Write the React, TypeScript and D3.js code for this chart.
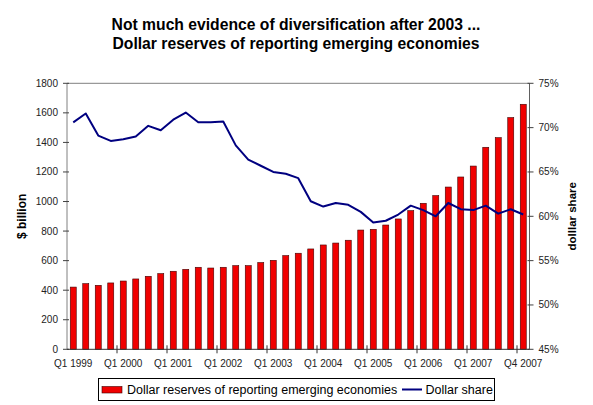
import React from "react";
import * as d3 from "d3";

// quarterly reserves ($ billion) and dollar share (%)
const reserves = [
  421, 444, 433, 449, 462, 476, 494, 512, 528, 541, 555, 550, 555, 566, 566,
  587, 602, 634, 650, 679, 706, 719, 738, 807, 812, 841, 882, 938, 988, 1040,
  1098, 1166, 1240, 1367, 1432, 1568, 1658,
];
const dollarShare = [
  70.6, 71.6, 69.1, 68.5, 68.7, 69.0, 70.2, 69.7, 70.9, 71.7, 70.6, 70.6, 70.7,
  68.0, 66.4, 65.7, 65.0, 64.8, 64.3, 61.7, 61.1, 61.5, 61.3, 60.5, 59.3, 59.5,
  60.2, 61.2, 60.7, 60.0, 61.5, 60.8, 60.7, 61.2, 60.3, 60.8, 60.2,
];
const tickLabels = [
  "Q1 1999", "Q1 2000", "Q1 2001", "Q1 2002", "Q1 2003",
  "Q1 2004", "Q1 2005", "Q1 2006", "Q1 2007", "Q4 2007",
];
const leftTicks = [0, 200, 400, 600, 800, 1000, 1200, 1400, 1600, 1800];
const rightTicks = [45, 50, 55, 60, 65, 70, 75];

const W = 593;
const H = 405;
const plot = { left: 67, right: 529.5, top: 83.3, bottom: 349.3 };
const font = "Arial, 'Liberation Sans', sans-serif";

const App = () => {
  const idx = reserves.map((_, i) => i);
  const x = d3
    .scaleBand<number>()
    .domain(idx)
    .range([plot.left, plot.right])
    .paddingInner(0)
    .paddingOuter(0);
  const step = x.step();
  const barW = 6;
  const yL = d3.scaleLinear().domain([0, 1800]).range([plot.bottom, plot.top]);
  const yR = d3.scaleLinear().domain([45, 75]).range([plot.bottom, plot.top]);

  const line = d3
    .line<number>()
    .x((_, i) => (x(i) as number) + step / 2)
    .y((d) => yR(d));

  // ticks between categories, every 4 quarters
  const xTicks = d3.range(4, reserves.length, 4).map((i) => x(i) as number);

  return (
    <svg
      width={W}
      height={H}
      style={{ position: "absolute", left: 0, top: 0, background: "#fff" }}
      fontFamily={font}
    >
      <rect x={0} y={0} width={W} height={H} fill="#fff" />

      <text x={296} y={30} textAnchor="middle" fontSize={15.7} fontWeight="bold">
        Not much evidence of diversification after 2003 ...
      </text>
      <text x={296} y={49} textAnchor="middle" fontSize={15.7} fontWeight="bold">
        Dollar reserves of reporting emerging economies
      </text>

      {/* plot border */}
      <line x1={plot.left} x2={plot.right} y1={plot.top} y2={plot.top} stroke="#808080" />

      {/* bars */}
      {reserves.map((v, i) => (
        <rect
          key={i}
          x={(x(i) as number) + (step - barW) / 2}
          y={yL(v)}
          width={barW}
          height={plot.bottom - yL(v)}
          fill="#f00000"
          stroke="#400000"
          strokeWidth={0.6}
        />
      ))}

      {/* dollar share line */}
      <path d={line(dollarShare) || ""} fill="none" stroke="#000080" strokeWidth={2} strokeLinejoin="round" />

      {/* left axis */}
      <line x1={plot.left} x2={plot.left} y1={plot.top} y2={plot.bottom} stroke="#808080" />
      {leftTicks.map((t) => (
        <g key={t}>
          <line x1={plot.left - 4} x2={plot.left + 2} y1={yL(t)} y2={yL(t)} stroke="#404040" />
          <text x={plot.left - 9} y={yL(t) + 3.5} textAnchor="end" fontSize={10} fill="#222">
            {t}
          </text>
        </g>
      ))}

      {/* right axis */}
      <line x1={plot.right} x2={plot.right} y1={plot.top} y2={plot.bottom} stroke="#606060" />
      {rightTicks.map((t) => (
        <g key={t}>
          <line x1={plot.right - 2} x2={plot.right + 4} y1={yR(t)} y2={yR(t)} stroke="#404040" />
          <text x={plot.right + 9} y={yR(t) + 3.5} fontSize={10} fill="#222">
            {t}%
          </text>
        </g>
      ))}

      {/* bottom axis */}
      <line x1={plot.left} x2={plot.right} y1={plot.bottom} y2={plot.bottom} stroke="#333" />
      {xTicks.map((t, i) => (
        <line key={i} x1={t} x2={t} y1={plot.bottom - 4} y2={plot.bottom + 4} stroke="#333" />
      ))}
      {tickLabels.map((lab, k) => (
        <text
          key={lab}
          x={(x(k * 4) as number) + step / 2}
          y={367}
          textAnchor="middle"
          fontSize={10}
          fill="#222"
        >
          {lab}
        </text>
      ))}

      {/* axis titles */}
      <text
        transform={`translate(26,${(plot.top + plot.bottom) / 2}) rotate(-90)`}
        textAnchor="middle"
        fontSize={12}
        fontWeight="bold"
      >
        $ billion
      </text>
      <text
        transform={`translate(576,${(plot.top + plot.bottom) / 2}) rotate(-90)`}
        textAnchor="middle"
        fontSize={11.5}
        fontWeight="bold"
      >
        dolllar share
      </text>

      {/* legend */}
      <rect x={98.5} y={378.5} width={396} height={22} fill="#fff" stroke="#000" />
      <rect x={102} y={386.5} width={20} height={6.5} fill="#f00000" stroke="#400000" strokeWidth={0.6} />
      <text x={127} y={394} fontSize={12.5}>
        Dollar reserves of reporting emerging economies
      </text>
      <line x1={402} x2={422} y1={389.5} y2={389.5} stroke="#000080" strokeWidth={2} />
      <text x={425.5} y={394} fontSize={12.5}>
        Dollar share
      </text>
    </svg>
  );
};

export default App;
